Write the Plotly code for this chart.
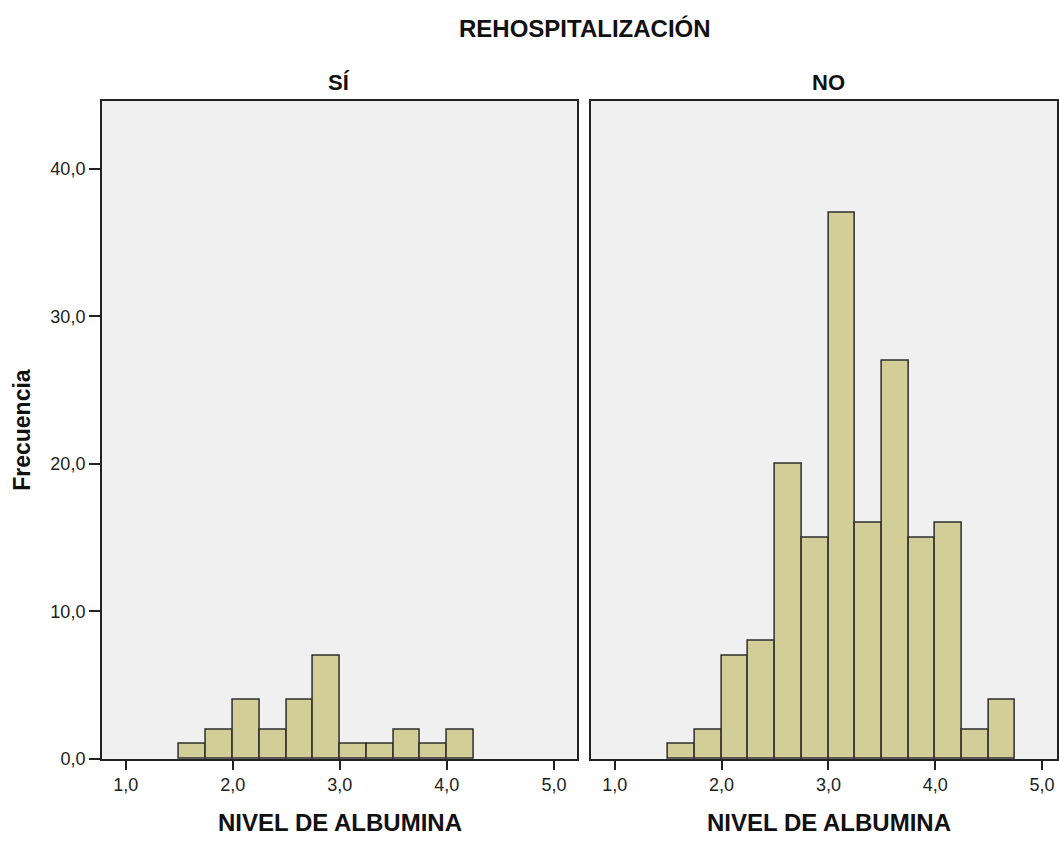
import plotly.graph_objects as go

# Data
bin_starts = [1.50, 1.75, 2.00, 2.25, 2.50, 2.75, 3.00, 3.25, 3.50, 3.75, 4.00, 4.25, 4.50]
bin_width = 0.25
counts_si = [1, 2, 4, 2, 4, 7, 1, 1, 2, 1, 2, 0, 0]
counts_no = [1, 2, 7, 8, 20, 15, 37, 16, 27, 15, 16, 2, 4]
panel_titles = ["SÍ", "NO"]
main_title = "REHOSPITALIZACIÓN"
x_title = "NIVEL DE ALBUMINA"
y_title = "Frecuencia"
x_ticks = [1, 2, 3, 4, 5]
y_ticks = [0, 10, 20, 30, 40]

W, H = 1059, 844
FONT = "Liberation Sans, Arial, sans-serif"
BAR_FILL = "#d3ce98"
BAR_LINE = "#2e2e2e"
BG = "#f0f0f0"
AX = "#222222"


def px(x):
    return x / W


def py(y):
    return 1 - y / H


centers = [b + bin_width / 2 for b in bin_starts]

fig = go.Figure()
for i, counts in enumerate([counts_si, counts_no]):
    xs = [c for c, n in zip(centers, counts) if n > 0]
    ys = [n for n in counts if n > 0]
    fig.add_trace(go.Bar(
        x=xs, y=ys, width=bin_width,
        marker=dict(color=BAR_FILL, line=dict(color=BAR_LINE, width=1.5)),
        xaxis="x" if i == 0 else "x2", yaxis="y" if i == 0 else "y2",
        showlegend=False, hoverinfo="x+y",
    ))

yrange = [0, 44.6]
ydom = [py(768), py(102)]

common_x = dict(
    tickvals=x_ticks, tickformat=".1f", ticks="outside", ticklen=9, tickwidth=1.5,
    tickcolor=AX, showgrid=False, zeroline=False, showline=True, linecolor=AX,
    linewidth=1.6, mirror=True,
    tickfont=dict(family=FONT, size=18, color="#222"),
)
common_y = dict(
    domain=ydom, range=yrange, showgrid=False, zeroline=False, showline=True,
    linecolor=AX, linewidth=1.6, mirror=True,
)
x_right_end = 0.776 + (W - 592) / 107.0
fig.update_layout(
    width=W, height=H, margin=dict(l=0, r=0, t=0, b=0),
    paper_bgcolor="white", plot_bgcolor=BG, separators=",.",
    bargap=0,
    xaxis=dict(domain=[px(102), px(578)], anchor="y", range=[0.776, 5.215], **common_x),
    xaxis2=dict(domain=[px(592), 1.0], anchor="y2", range=[0.776, x_right_end], **common_x),
    yaxis=dict(anchor="x", tickvals=y_ticks, tickformat=".1f", ticks="outside",
               ticklen=11, tickwidth=1.5, tickcolor=AX,
               tickfont=dict(family=FONT, size=18, color="#222"), **common_y),
    yaxis2=dict(anchor="x2", showticklabels=False, ticks="", **common_y),
)


def label(text, x, y, size, angle=0):
    return dict(text=f"<b>{text}</b>", x=px(x), y=py(y), xref="paper", yref="paper",
                showarrow=False, textangle=angle, xanchor="center", yanchor="middle",
                font=dict(family=FONT, size=size, color="#111"))


ann = [
    label(main_title, 586, 29, 24),
    label(panel_titles[0], 340, 83, 22),
    label(panel_titles[1], 830, 83, 22),
    label(x_title, 341, 832, 24),
    label(x_title, 831, 832, 24),
    label(y_title, 22, 435, 23, angle=-90),
]
fig.update_layout(annotations=ann)

fig.write_html(
    "out.html",
    config={"displayModeBar": False},
    post_script="document.body.style.margin='0';document.body.style.overflow='hidden';",
)
